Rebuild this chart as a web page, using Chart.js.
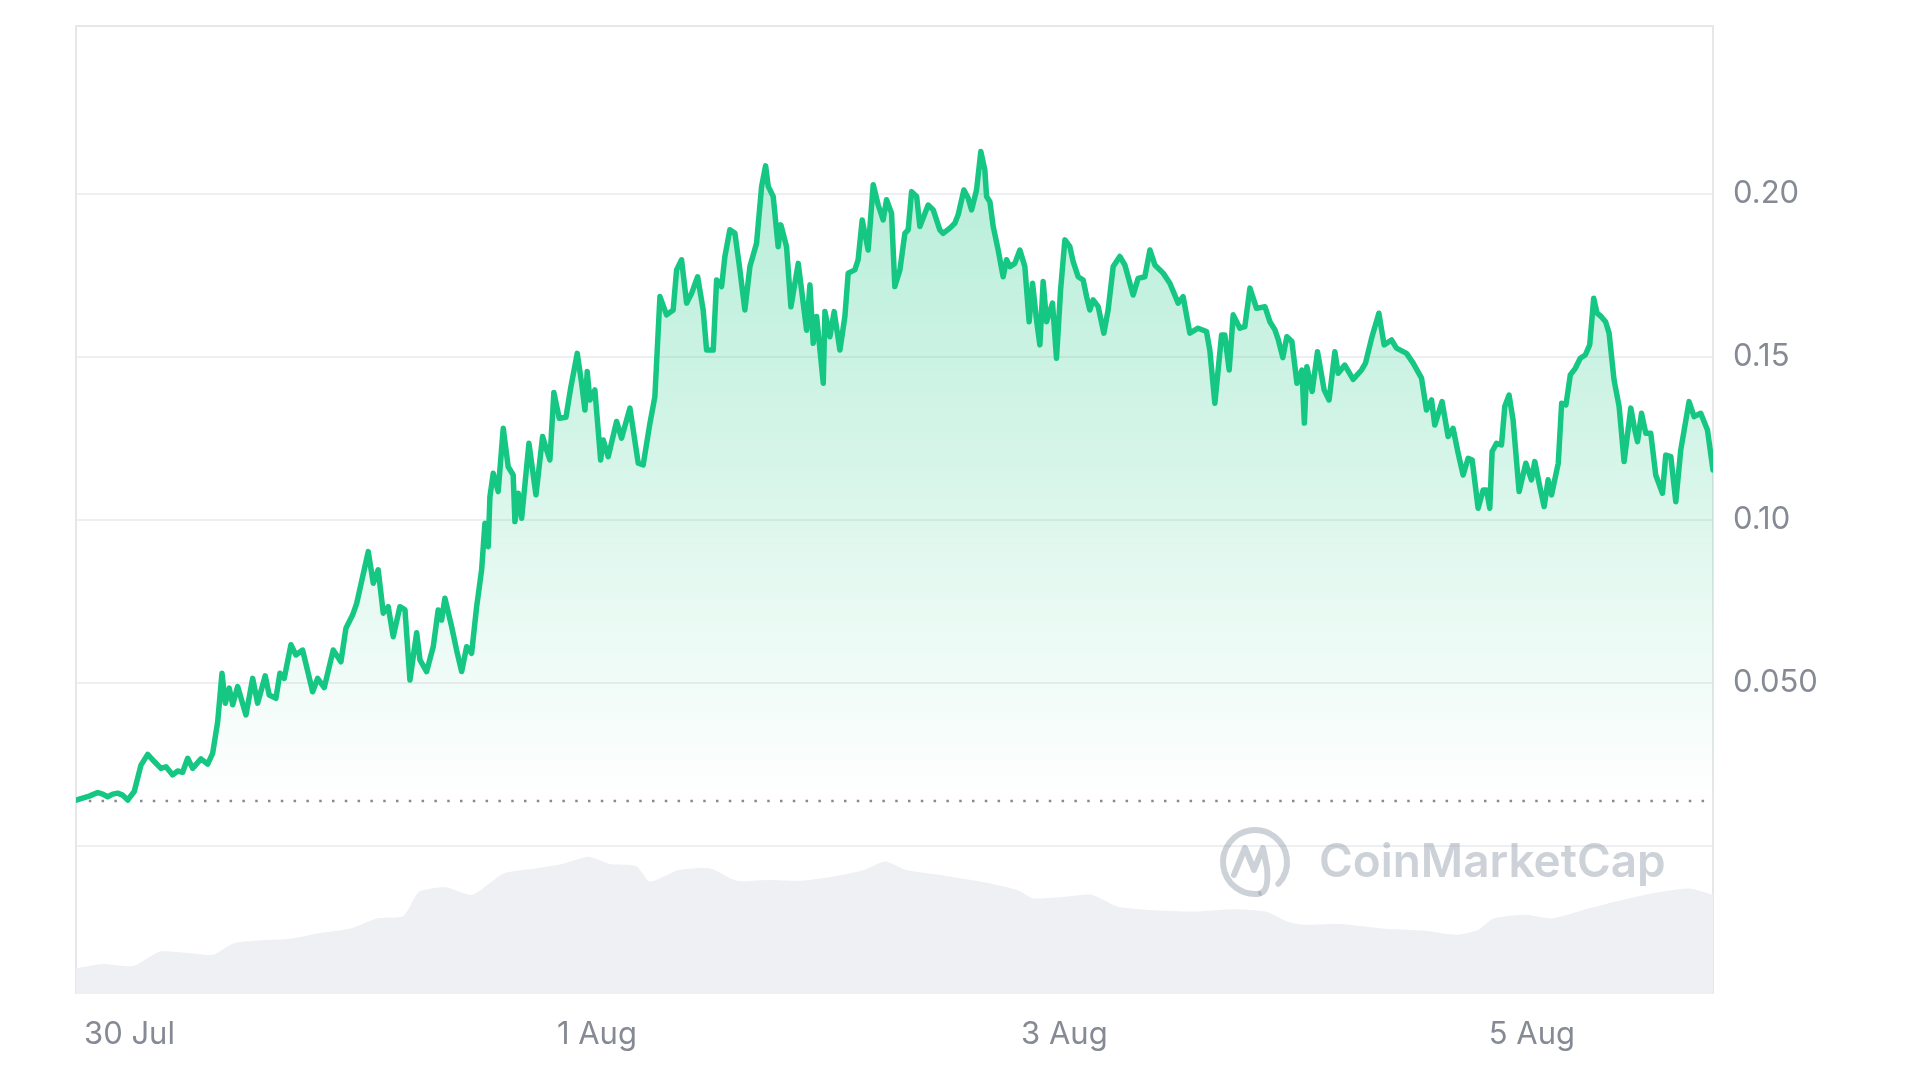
<!DOCTYPE html>
<html><head><meta charset="utf-8">
<script src="https://cdn.jsdelivr.net/npm/chart.js@4.4.1/dist/chart.umd.min.js"></script>
<style>html,body{margin:0;padding:0;background:#fff;} #wrap{width:1920px;height:1080px;position:relative;}</style>
</head><body><div id="wrap"><canvas id="c" width="1920" height="1080"></canvas></div>
<script>
// ---- data (hours since 30 Jul 00:00) ----
const timesH = [
-5.49,-4.13,-3.26,-2.75,-2.24,-1.72,-1.21,-0.70,-0.18,0.49,
1.18,1.87,2.55,3.23,3.75,4.44,4.95,5.46,5.98,6.49,
7.34,8.03,8.54,9.06,9.50,9.84,10.25,10.60,11.11,11.96,
12.65,13.16,13.94,14.35,15.04,15.45,15.89,16.58,17.09,17.78,
18.81,19.32,20.00,20.92,21.71,22.23,22.92,23.33,24.52,25.03,
25.54,26.06,26.57,27.08,27.77,28.29,28.80,29.14,29.49,29.83,
30.51,31.19,31.70,32.05,32.39,33.08,33.59,34.11,34.62,35.13,
35.65,36.16,36.50,36.84,37.01,37.35,37.86,38.38,38.89,39.40,
39.58,39.92,40.27,41.02,41.74,42.42,42.83,43.17,43.58,44.13,
44.82,45.30,45.98,46.43,46.77,47.00,47.28,47.79,48.38,48.65,
49.16,50.02,50.53,51.39,52.24,52.75,53.41,53.95,54.47,55.15,
55.83,56.18,56.69,57.21,57.72,58.34,58.91,59.26,59.94,60.29,
60.80,61.14,61.65,62.17,62.68,63.19,63.71,64.39,64.91,65.32,
65.59,66.10,66.61,66.89,67.47,67.92,68.67,69.53,69.87,70.21,
70.56,71.24,71.41,71.92,72.36,72.95,73.46,73.80,74.48,74.82,
75.24,75.85,76.37,76.88,77.39,77.74,78.25,78.59,79.11,79.62,
79.96,80.31,80.83,81.16,82.01,82.53,83.21,83.55,84.24,84.75,
85.09,85.68,86.12,86.47,86.98,87.42,87.83,88.01,88.35,88.69,
89.20,89.71,90.06,90.40,90.91,91.43,91.94,92.38,92.73,93.14,
93.48,93.82,94.17,94.78,95.19,95.61,96.05,96.56,96.90,97.41,
97.93,98.28,98.61,98.95,99.47,100.05,100.49,101.01,101.69,102.21,
103.06,103.57,104.26,104.78,105.29,106.14,106.83,107.68,108.19,108.88,
109.73,110.59,110.93,111.45,112.14,112.47,112.92,113.33,114.02,114.53,
115.05,115.73,116.59,117.10,117.62,117.97,118.43,118.84,119.36,119.88,
120.39,120.64,120.90,121.44,121.99,122.67,123.18,123.77,124.11,124.79,
125.65,126.51,126.92,127.54,128.29,128.83,129.59,130.10,131.13,131.81,
132.67,133.18,133.70,134.03,134.78,135.40,135.91,136.43,136.94,137.46,
137.87,138.48,139.00,139.34,139.68,139.92,140.37,140.88,141.22,141.66,
142.07,142.69,143.38,143.96,144.30,144.82,145.26,145.67,146.02,146.71,
147.06,147.50,147.95,148.46,148.97,149.49,149.94,150.35,150.70,151.11,
151.57,151.93,152.44,152.96,153.47,154.16,154.57,154.85,155.26,155.70,
156.21,156.72,157.41,157.75,158.27,158.78,159.29,160.14,160.66,161.34,
162.03,162.60
];
const prices = [
0.0141,0.0153,0.0164,0.0159,0.0151,0.0159,0.0162,0.0156,0.0141,0.0167,
0.0248,0.0281,0.0259,0.0238,0.0243,0.0218,0.0230,0.0226,0.0269,0.0238,
0.0267,0.0251,0.0284,0.0381,0.0530,0.0438,0.0484,0.0433,0.0489,0.0402,
0.0514,0.0438,0.0522,0.0463,0.0453,0.0530,0.0514,0.0617,0.0586,0.0601,
0.0473,0.0514,0.0486,0.0601,0.0565,0.0668,0.0709,0.0744,0.0903,0.0806,
0.0847,0.0714,0.0734,0.0642,0.0734,0.0724,0.0509,0.0581,0.0654,0.0571,
0.0535,0.0611,0.0724,0.0693,0.0760,0.0673,0.0601,0.0535,0.0611,0.0591,
0.0734,0.0847,0.0990,0.0918,0.1071,0.1143,0.1087,0.1281,0.1163,0.1138,
0.0995,0.1082,0.1005,0.1235,0.1077,0.1256,0.1215,0.1184,0.1391,0.1312,
0.1315,0.1404,0.1511,0.1419,0.1337,0.1455,0.1368,0.1399,0.1184,0.1245,
0.1194,0.1302,0.1251,0.1343,0.1174,0.1169,0.1291,0.1378,0.1685,0.1629,
0.1644,0.1767,0.1798,0.1665,0.1695,0.1746,0.1644,0.1521,0.1521,0.1736,
0.1716,0.1808,0.1890,0.1879,0.1767,0.1644,0.1777,0.1849,0.2023,0.2086,
0.2023,0.1992,0.1838,0.1905,0.1838,0.1654,0.1787,0.1582,0.1721,0.1542,
0.1624,0.1419,0.1639,0.1562,0.1639,0.1521,0.1624,0.1757,0.1767,0.1798,
0.1920,0.1828,0.2028,0.1966,0.1920,0.1982,0.1941,0.1716,0.1767,0.1879,
0.1890,0.2007,0.1992,0.1900,0.1966,0.1951,0.1890,0.1879,0.1895,0.1910,
0.1936,0.2012,0.1987,0.1951,0.2012,0.2130,0.2074,0.1992,0.1976,0.1900,
0.1828,0.1746,0.1798,0.1777,0.1787,0.1828,0.1777,0.1608,0.1726,0.1613,
0.1537,0.1731,0.1608,0.1665,0.1496,0.1706,0.1859,0.1838,0.1792,0.1746,
0.1736,0.1685,0.1644,0.1675,0.1654,0.1573,0.1644,0.1777,0.1808,0.1782,
0.1690,0.1741,0.1746,0.1828,0.1782,0.1757,0.1726,0.1665,0.1685,0.1573,
0.1588,0.1578,0.1521,0.1358,0.1567,0.1567,0.1460,0.1629,0.1588,0.1593,
0.1711,0.1649,0.1654,0.1608,0.1583,0.1552,0.1498,0.1562,0.1547,0.1419,
0.1460,0.1297,0.1470,0.1394,0.1516,0.1399,0.1368,0.1516,0.1450,0.1475,
0.1431,0.1460,0.1481,0.1557,0.1634,0.1537,0.1552,0.1527,0.1511,0.1481,
0.1435,0.1337,0.1368,0.1291,0.1363,0.1256,0.1281,0.1205,0.1138,0.1189,
0.1184,0.1036,0.1092,0.1092,0.1036,0.1210,0.1235,0.1230,0.1348,0.1383,
0.1307,0.1087,0.1174,0.1123,0.1179,0.1102,0.1041,0.1123,0.1077,0.1174,
0.1358,0.1353,0.1445,0.1465,0.1496,0.1506,0.1537,0.1680,0.1634,0.1624,
0.1608,0.1573,0.1429,0.1348,0.1179,0.1343,0.1276,0.1240,0.1327,0.1266,
0.1266,0.1138,0.1082,0.1199,0.1194,0.1056,0.1215,0.1363,0.1317,0.1327,
0.1276,0.1153
];
const openPrice = 0.0138;
const volTimesH = [
-5.49,-2.84,0.41,3.13,5.85,8.57,10.73,14.00,16.71,19.44,
22.69,25.41,28.13,29.76,32.47,35.20,38.45,41.71,44.44,47.15,
49.33,52.04,53.44,56.39,59.65,62.37,65.63,68.89,72.14,75.41,
77.59,79.75,83.02,87.37,91.17,92.80,96.06,98.78,101.50,104.75,
109.10,113.45,116.71,118.88,120.51,124.32,128.67,133.02,136.27,138.45,
140.08,143.34,146.06,149.32,152.58,156.39,160.18,162.60
];
const volumes = [
6.4,7.5,7.0,10.6,10.3,9.8,12.7,13.5,13.9,15.2,
16.4,18.9,19.5,25.6,26.7,24.8,30.2,31.4,32.5,34.3,
32.5,32.0,28.1,31.0,31.4,28.3,28.5,28.3,29.3,31.0,
33.1,31.0,29.8,28.1,26.0,23.9,24.3,24.8,21.8,21.0,
20.6,21.2,20.6,18.1,17.3,17.5,16.4,15.8,14.8,16.0,
18.9,19.8,18.9,21.0,23.1,25.2,26.4,24.8
];
const priceTicks = [0, 0.05, 0.10, 0.15, 0.20];
const priceTickLabels = ['', '0.050', '0.10', '0.15', '0.20'];
const dateTicksH = [0, 48, 96, 144];
const dateTickLabels = ['30 Jul', '1 Aug', '3 Aug', '5 Aug'];
const xRange = [-5.49, 162.6];
const priceRange = [-0.0454, 0.2515];
const volRange = [0, 242];

// ---- rendering ----
const GREEN = '#16c784';
const LABEL = '#858a94';

const framePlugin = {
  id: 'frame',
  beforeDatasetsDraw(chart) {
    const {ctx, chartArea: a} = chart;
    ctx.save();
    ctx.strokeStyle = '#e6e7ea';
    ctx.lineWidth = 2;
    ctx.beginPath();
    ctx.moveTo(a.left, a.bottom);
    ctx.lineTo(a.left, a.top);
    ctx.lineTo(a.right, a.top);
    ctx.lineTo(a.right, a.bottom);
    ctx.stroke();
    ctx.restore();
  }
};

const watermarkPlugin = {
  id: 'watermark',
  afterDatasetsDraw(chart) {
    const {ctx, chartArea: a, scales} = chart;
    const zeroY = scales.y.getPixelForValue(0);
    const col = 'rgba(150,158,174,0.48)';
    ctx.save();
    const cx = a.right - 458, cy = zeroY + 16, r = 32;
    ctx.strokeStyle = col;
    ctx.lineWidth = 6;
    ctx.lineCap = 'round';
    ctx.lineJoin = 'round';
    ctx.beginPath();
    ctx.arc(cx, cy, r, 1.45, 0.75 + Math.PI * 2);
    ctx.stroke();
    ctx.beginPath();
    ctx.moveTo(cx - 21, cy + 13);
    ctx.lineTo(cx - 10, cy - 14);
    ctx.lineTo(cx - 1, cy + 8);
    ctx.lineTo(cx + 8, cy - 14);
    ctx.lineTo(cx + 12, cy + 6);
    ctx.quadraticCurveTo(cx + 14, cy + 28, cx + 6, cy + 31);
    ctx.stroke();
    ctx.fillStyle = col;
    ctx.font = '600 40px Inter';
    const w = ctx.measureText('CoinMarketCap').width;
    const size = 40 * 347 / w;
    ctx.font = '600 ' + size.toFixed(1) + 'px Inter';
    ctx.textBaseline = 'alphabetic';
    ctx.textAlign = 'left';
    ctx.fillText('CoinMarketCap', a.right - 394, zeroY + 31);
    ctx.restore();
  }
};

const priceData = timesH.map((h, i) => ({x: h, y: prices[i]}));
const volData = volTimesH.map((h, i) => ({x: h, y: volumes[i]}));
const openData = [{x: xRange[0], y: openPrice}, {x: xRange[1], y: openPrice}];

new Chart(document.getElementById('c'), {
  type: 'line',
  data: {
    datasets: [
      {
        label: 'Price',
        data: priceData,
        yAxisID: 'y',
        borderColor: GREEN,
        borderWidth: 5.5,
        borderJoinStyle: 'round',
        borderCapStyle: 'round',
        pointRadius: 0,
        tension: 0,
        order: 1,
        fill: {value: openPrice},
        backgroundColor: (context) => {
          const ch = context.chart;
          const a = ch.chartArea;
          if (!a) return 'rgba(22,199,132,0.15)';
          const base = ch.scales.y.getPixelForValue(openPrice);
          const g = ch.ctx.createLinearGradient(0, a.top, 0, base);
          g.addColorStop(0, 'rgba(22,199,132,0.36)');
          g.addColorStop(0.5, 'rgba(22,199,132,0.20)');
          g.addColorStop(0.85, 'rgba(22,199,132,0.06)');
          g.addColorStop(1, 'rgba(22,199,132,0.0)');
          return g;
        }
      },
      {
        label: 'Open',
        data: openData,
        yAxisID: 'y',
        borderColor: '#858a93',
        borderWidth: 2.5,
        borderDash: [2.5, 10.3],
        pointRadius: 0,
        fill: false,
        order: 2
      },
      {
        label: 'Volume',
        data: volData,
        yAxisID: 'yVol',
        borderWidth: 0,
        borderColor: 'rgba(0,0,0,0)',
        backgroundColor: '#eef0f4',
        pointRadius: 0,
        tension: 0.2,
        fill: 'origin',
        order: 3
      }
    ]
  },
  options: {
    responsive: false,
    animation: false,
    devicePixelRatio: 1,
    layout: {padding: {left: 76, top: 26, right: 0, bottom: 0}},
    plugins: {legend: {display: false}, tooltip: {enabled: false}},
    scales: {
      x: {
        type: 'linear',
        min: xRange[0],
        max: xRange[1],
        afterBuildTicks: (axis) => { axis.ticks = dateTicksH.map(v => ({value: v})); },
        afterFit: (axis) => { axis.height = 86; axis.paddingLeft = 0; axis.paddingRight = 0; },
        grid: {display: false, drawTicks: false},
        border: {display: false},
        ticks: {
          autoSkip: false,
          maxRotation: 0,
          padding: 22,
          color: LABEL,
          font: {family: 'Inter', size: 31},
          callback: (v) => { const i = dateTicksH.indexOf(v); return i >= 0 ? dateTickLabels[i] : ''; }
        }
      },
      y: {
        position: 'right',
        min: priceRange[0],
        max: priceRange[1],
        afterBuildTicks: (axis) => { axis.ticks = priceTicks.map(v => ({value: v})); },
        afterFit: (axis) => { axis.width = 207; axis.paddingTop = 0; axis.paddingBottom = 0; },
        grid: {color: '#eeeff2', lineWidth: 2, drawTicks: false},
        border: {display: false},
        ticks: {
          padding: 20,
          color: LABEL,
          font: {family: 'Inter', size: 31},
          callback: (v) => { const i = priceTicks.indexOf(v); return i >= 0 ? priceTickLabels[i] : ''; }
        }
      },
      yVol: {
        display: false,
        min: volRange[0],
        max: volRange[1]
      }
    }
  },
  plugins: [framePlugin, watermarkPlugin]
});
</script>
</body></html>
